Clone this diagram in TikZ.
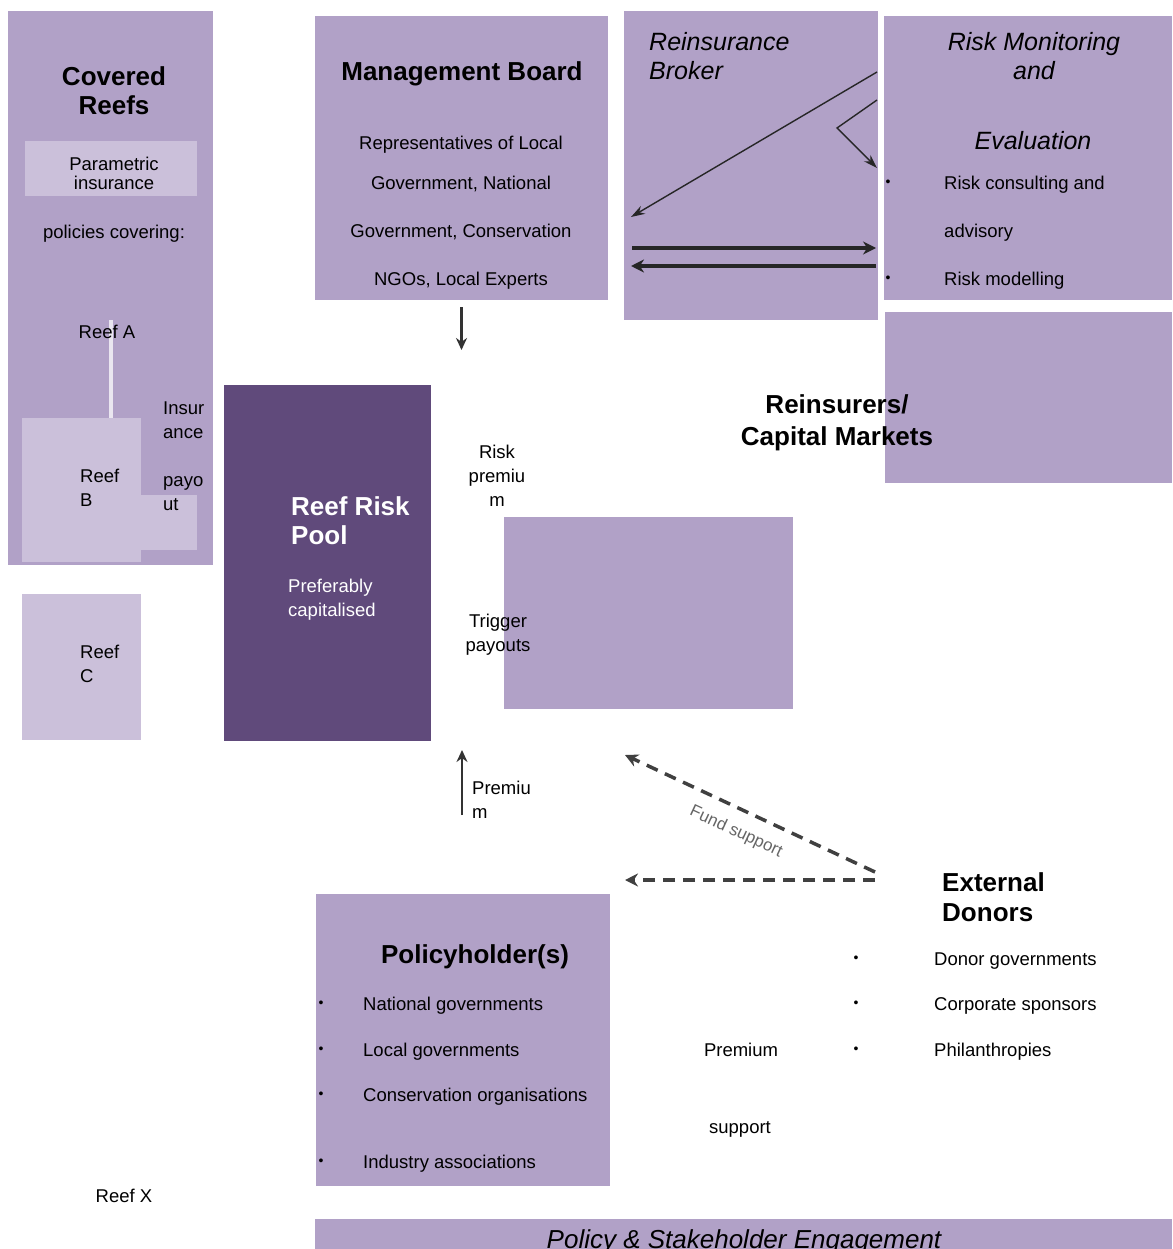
\documentclass[tikz,border=0pt]{standalone}
\usepackage{fontspec}
\setmainfont{Liberation Sans}
\usepackage{xcolor}
\usepackage{tikz}
\usetikzlibrary{arrows.meta}

\definecolor{midp}{HTML}{B1A1C7}
\definecolor{darkp}{HTML}{604A7B}
\definecolor{lightp}{HTML}{CBC0DA}

\begin{document}
\begin{tikzpicture}[
  x=1pt, y=-1pt,
  box/.style={anchor=north west, inner sep=0pt, outer sep=0pt, draw=none},
  midbox/.style={box, fill=midp},
  lightbox/.style={box, fill=lightp},
  darkbox/.style={box, fill=darkp},
  txt/.style={inner sep=0pt, font=\fontsize{18.5}{24}\selectfont},
  line/.style={txt, text height=13.3pt, text depth=0pt},
  ttl/.style={inner sep=0pt, font=\fontsize{26}{29}\selectfont\bfseries},
  ttlline/.style={ttl, text height=18.7pt, text depth=0pt},
  ittl/.style={inner sep=0pt, font=\fontsize{25}{29}\selectfont\itshape},
  bul/.style={inner sep=0pt, font=\fontsize{14}{14}\selectfont},
  flow/.style={-{Stealth[length=12pt,width=11pt]}, line width=2.2pt, draw=black!80},
  thinflow/.style={-{Stealth[length=14pt,width=9pt]}, line width=1.4pt, draw=black!85},
  thickflow/.style={-{Stealth[length=13pt,width=13pt]}, line width=3.5pt, draw=black!85},
  fundflow/.style={-{Stealth[length=13pt,width=13pt]}, line width=3.5pt, draw=black!75, dash pattern=on 12pt off 8pt},
  reefline/.style={line width=4pt, draw=white!60!lightp}
]
\useasboundingbox (0,0) rectangle (1172,1249);
\fill[white] (0,0) rectangle (1172,1249);

% boxes
\node[midbox, minimum width=205pt, minimum height=554pt] (covered) at (8,11) {};
\node[lightbox, minimum width=172pt, minimum height=55pt] (parambox) at (25,141) {};
\node[lightbox, minimum width=56pt, minimum height=55pt] (payoutbox) at (141,495) {};
\node[lightbox, minimum width=119pt, minimum height=144pt] (reefB) at (22,418) {};
\node[lightbox, minimum width=119pt, minimum height=146pt] (reefC) at (22,594) {};
\node[midbox, minimum width=293pt, minimum height=284pt] (mgmt) at (315,16) {};
\node[midbox, minimum width=254pt, minimum height=309pt] (broker) at (624,11) {};
\node[midbox, minimum width=288pt, minimum height=284pt] (monitor) at (884,16) {};
\node[midbox, minimum width=287pt, minimum height=171pt] (reins) at (885,312) {};
\node[darkbox, minimum width=207pt, minimum height=356pt] (pool) at (224,385) {};
\node[midbox, minimum width=289pt, minimum height=192pt] (trigger) at (504,517) {};
\node[midbox, minimum width=294pt, minimum height=292pt] (holders) at (316,894) {};
\node[midbox, minimum width=857pt, minimum height=60pt] (engage) at (315,1219) {};

% covered reefs
\node[ttl, align=center] (covtitle) at (114,91) {Covered\\Reefs};
\node[txt, align=center, font=\fontsize{18.5}{19}\selectfont] (paramtxt) at (114,173) {Parametric\\insurance};
\node[line] (policies) at (114,232) {policies covering:};
\coordinate (reefAtop) at (111,320);
\draw[reefline] (reefAtop) -- (reefAtop |- reefB.north);
\node[line] (reefA) at (107,332) {Reef A};
\node[txt, align=left, anchor=west] (reefBtxt) at (80,488) {Reef\\B};
\node[txt, align=left, anchor=west] (payouttxt) at (163,456) {Insur\\ance\\[24pt]payo\\ut};
\node[txt, align=left, anchor=west] (reefCtxt) at (80,664) {Reef\\C};

% management board
\node[ttlline] (mgmttitle) at (462,71) {Management Board};
\node[line] (mgmt1) at (461,143) {Representatives of Local};
\node[line] (mgmt2) at (461,183) {Government, National};
\node[line] (mgmt3) at (461,231) {Government, Conservation};
\node[line] (mgmt4) at (461,279) {NGOs, Local Experts};

% broker
\node[ittl, align=left, anchor=west] (brokertxt) at (649,56.5) {Reinsurance\\Broker};
\coordinate (brk1s) at (877,72);
\coordinate (brk1e) at (631,217);
\coordinate (brk2s) at (877,100);
\coordinate (brk2m) at (837,128);
\coordinate (brk2e) at (877,168);
\coordinate (brk3s) at (632,248);
\coordinate (brk3e) at (876,248);
\coordinate (brk4s) at (876,266);
\coordinate (brk4e) at (631,266);
\draw[thinflow] (brk1s) -- (brk1e);
\draw[thinflow] (brk2s) -- (brk2m) -- (brk2e);
\draw[thickflow] (brk3s) -- (brk3e);
\draw[thickflow] (brk4s) -- (brk4e);

% risk monitoring
\node[ittl, align=center] (montitle) at (1034,56.5) {Risk Monitoring\\and};
\node[ittl, text height=18pt, text depth=0pt] (moneval) at (1033,141) {Evaluation};
\node[bul] (monb1) at (888,183) {\textbullet};
\node[line, anchor=west] (mon1) at (944,183) {Risk consulting and};
\node[line, anchor=west] (mon2) at (944,231) {advisory};
\node[bul] (monb2) at (888,279) {\textbullet};
\node[line, anchor=west] (mon3) at (944,279) {Risk modelling};

\node[ttl, align=center, font=\fontsize{26}{32}\selectfont\bfseries] (reinstxt) at (837,423) {Reinsurers/\\Capital Markets};

% pool
\node[ttl, align=left, anchor=west, text=white] (pooltitle) at (291,520.5) {Reef Risk\\Pool};
\node[txt, align=left, anchor=west, text=white] (pooltxt) at (288,600) {Preferably\\capitalised};

\coordinate (mgmtdown) at (461.5,350);
\draw[flow] ([yshift=-7pt]mgmt.south) -- (mgmtdown);
\node[txt, align=center] (riskprem) at (497,476) {Risk\\premiu\\m};
\node[txt, align=center] (trigtxt) at (498,635) {Trigger\\payouts};
\coordinate (premfoot) at (462,815);
\coordinate (premtip) at (462,750);
\draw[flow] (premfoot) -- (premtip);
\node[txt, align=left, anchor=west] (premtxt) at (472,800) {Premiu\\m};

% donors
\coordinate (donorsA) at (875,872);
\coordinate (fundtipA) at (625,755);
\coordinate (donorsB) at (875,880);
\coordinate (fundtipB) at (625,880);
\draw[fundflow] (donorsA) -- (fundtipA);
\draw[fundflow] (donorsB) -- (fundtipB);
\node[inner sep=0pt, font=\fontsize{17}{17}\selectfont, text=black!60, rotate=-25] (fundlbl) at (736,832) {Fund support};

\node[ttl, align=left, anchor=west, font=\fontsize{26}{30}\selectfont\bfseries] (donorstitle) at (942,897) {External\\Donors};
\node[bul] (donb1) at (856,959) {\textbullet};
\node[line, anchor=west] (don1) at (934,959) {Donor governments};
\node[bul] (donb2) at (856,1004) {\textbullet};
\node[line, anchor=west] (don2) at (934,1004) {Corporate sponsors};
\node[bul] (donb3) at (856,1050) {\textbullet};
\node[line, anchor=west] (don3) at (934,1050) {Philanthropies};
\node[line] (premsup1) at (741,1050) {Premium};
\node[line] (premsup2) at (740,1127) {support};

% policyholders
\node[ttlline] (holderstitle) at (475,954) {Policyholder(s)};
\node[bul] (holb1) at (321,1004) {\textbullet};
\node[line, anchor=west] (hol1) at (363,1004) {National governments};
\node[bul] (holb2) at (321,1050) {\textbullet};
\node[line, anchor=west] (hol2) at (363,1050) {Local governments};
\node[bul] (holb3) at (321,1095) {\textbullet};
\node[line, anchor=west] (hol3) at (363,1095) {Conservation organisations};
\node[bul] (holb4) at (321,1162) {\textbullet};
\node[line, anchor=west] (hol4) at (363,1162) {Industry associations};

\node[line] (reefX) at (124,1196) {Reef X};
\node[ittl, font=\fontsize{26}{29}\selectfont\itshape, anchor=base] (engagetxt) at (744,1248) {Policy \& Stakeholder Engagement};
\end{tikzpicture}
\end{document}
